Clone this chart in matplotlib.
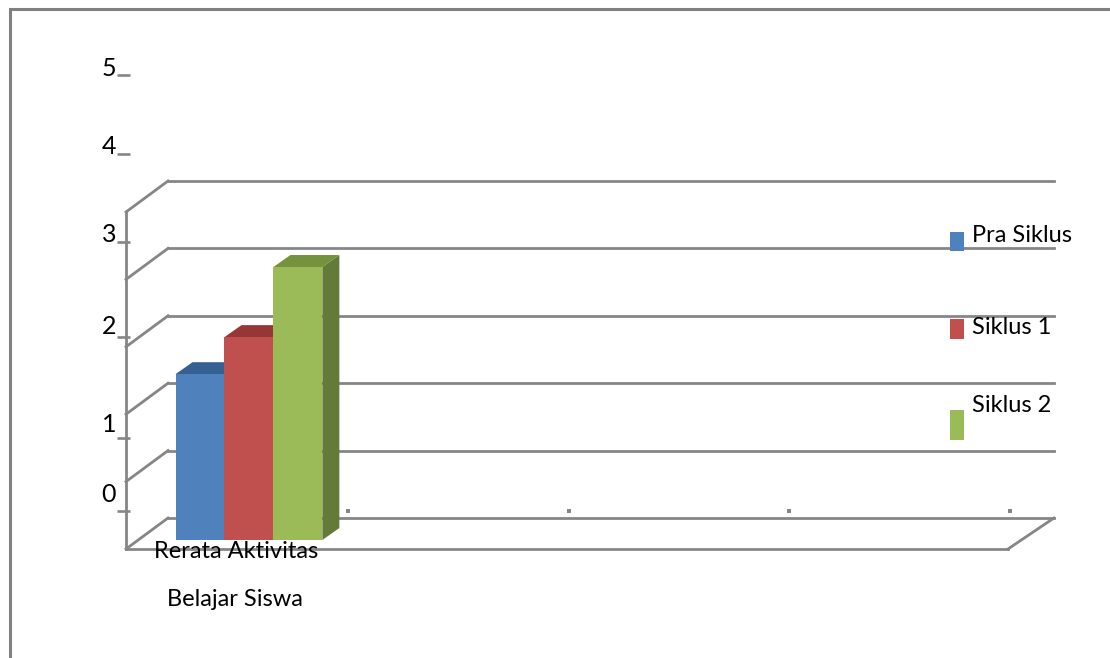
import matplotlib

matplotlib.use("Agg")
import matplotlib.pyplot as plt
from matplotlib.patches import Polygon, Rectangle
from matplotlib.transforms import Affine2D

plt.rcParams["font.family"] = ["Lato", "DejaVu Sans"]

SERIES = ["Pra Siklus", "Siklus 1", "Siklus 2"]
VALUES = [2.46, 3.01, 4.05]
CATEGORY_LINES = ["Rerata Aktivitas", "Belajar Siswa"]
Y_TICK_LABELS = ["0", "1", "2", "3", "4", "5"]
N_CATEGORIES = 4

FRONT = ["#4F81BD", "#C0504D", "#9BBB59"]
TOP = ["#376092", "#953735", "#76923C"]
SIDE = ["#3A5F8C", "#8E3B39", "#637A38"]
LINE = "#868686"
W, H = 1110, 658

fig = plt.figure(figsize=(W / 100, H / 100), dpi=100, facecolor="white")

# warstwa w pikselach na ramke, podpisy i legende
over = fig.add_axes([0, 0, 1, 1], zorder=3)
over.set_xlim(0, W)
over.set_ylim(H, 0)
over.axis("off")
over.patch.set_alpha(0)

# wykres: przednia plaszczyzna 126-1008 px, y 549-212 px
ax = fig.add_axes([126 / W, (H - 549) / H, 882 / W, 337 / H], zorder=1)
ax.set_xlim(0, N_CATEGORIES)
ax.set_ylim(0, 5)
ax.axis("off")


def px_shift(dx, dy):
    return ax.transData + Affine2D().translate(dx, dy)


back = px_shift(42, 31)
lw = 2.0
for v in range(6):
    ax.plot([0, N_CATEGORIES + 0.016], [v, v], color=LINE, lw=lw, transform=back, clip_on=False, zorder=1)
    ax.plot([0, 42 / 220.5], [v, v + 31 / 67.4], color=LINE, lw=lw, clip_on=False, zorder=1)
ax.plot([0, 0], [0, 5], color=LINE, lw=lw, clip_on=False, zorder=1)
ax.plot([0, N_CATEGORIES], [0, 0], color=LINE, lw=lw, clip_on=False, zorder=1)
ax.plot([N_CATEGORIES, N_CATEGORIES + 46 / 220.5], [0, 31 / 67.4], color=LINE, lw=lw, clip_on=False, zorder=1)

# znaczniki kategorii
ax.scatter(range(1, N_CATEGORIES + 1), [0] * N_CATEGORIES, marker="s", s=6, color=LINE,
           linewidths=0, transform=px_shift(1.5, 38), clip_on=False, zorder=1)

# slupki 3D
bar_w = 0.222
x0 = 0.1667
dep_x, dep_y = 17 / 220.5, 12 / 67.4
bar_tr = px_shift(12.75, 9)
for i, val in enumerate(VALUES):
    left = x0 + i * bar_w
    right = left + bar_w
    top = Polygon([(left, val), (right, val), (right + dep_x, val + dep_y), (left + dep_x, val + dep_y)],
                  closed=True, facecolor=TOP[i], edgecolor="none", transform=bar_tr, zorder=2, clip_on=False)
    side = Polygon([(right, 0), (right + dep_x, dep_y), (right + dep_x, val + dep_y), (right, val)],
                   closed=True, facecolor=SIDE[i], edgecolor="none", transform=bar_tr, zorder=2, clip_on=False)
    ax.add_patch(top)
    ax.add_patch(side)
    ax.bar(left, val, width=bar_w, align="edge", color=FRONT[i], transform=bar_tr, zorder=3, clip_on=False)

# ramka
over.plot([10, 10, W], [H, 9, 9], color="#808080", lw=2.2, solid_joinstyle="miter", clip_on=False)

# podpisy osi y (w oryginale przesuniete wzgledem siatki)
label_y = [494, 424, 327, 234, 146, 68]
tick_y = [511, 438, 337, 242, 154, 75]
for lab, ly, ty in zip(Y_TICK_LABELS, label_y, tick_y):
    over.text(109, ly, lab, fontsize=18, color="black", ha="center", va="center")
    over.plot([117, 130], [ty, ty], color=LINE, lw=1.9, solid_capstyle="butt")

# kategoria
for line, cx, cy in zip(CATEGORY_LINES, [236, 235], [551, 599]):
    over.text(cx, cy, line, fontsize=17, color="black", ha="center", va="center")

# legenda
swatch = [(232, 19), (319, 20), (410, 30)]
legend_y = [235, 327, 406]
for name, color, (sy, sh), ly in zip(SERIES, FRONT, swatch, legend_y):
    over.add_patch(Rectangle((950, sy), 14, sh, facecolor=color, edgecolor="none"))
    over.text(972, ly, name, fontsize=17, color="black", ha="left", va="center")

fig.savefig("out.png", dpi=100)
